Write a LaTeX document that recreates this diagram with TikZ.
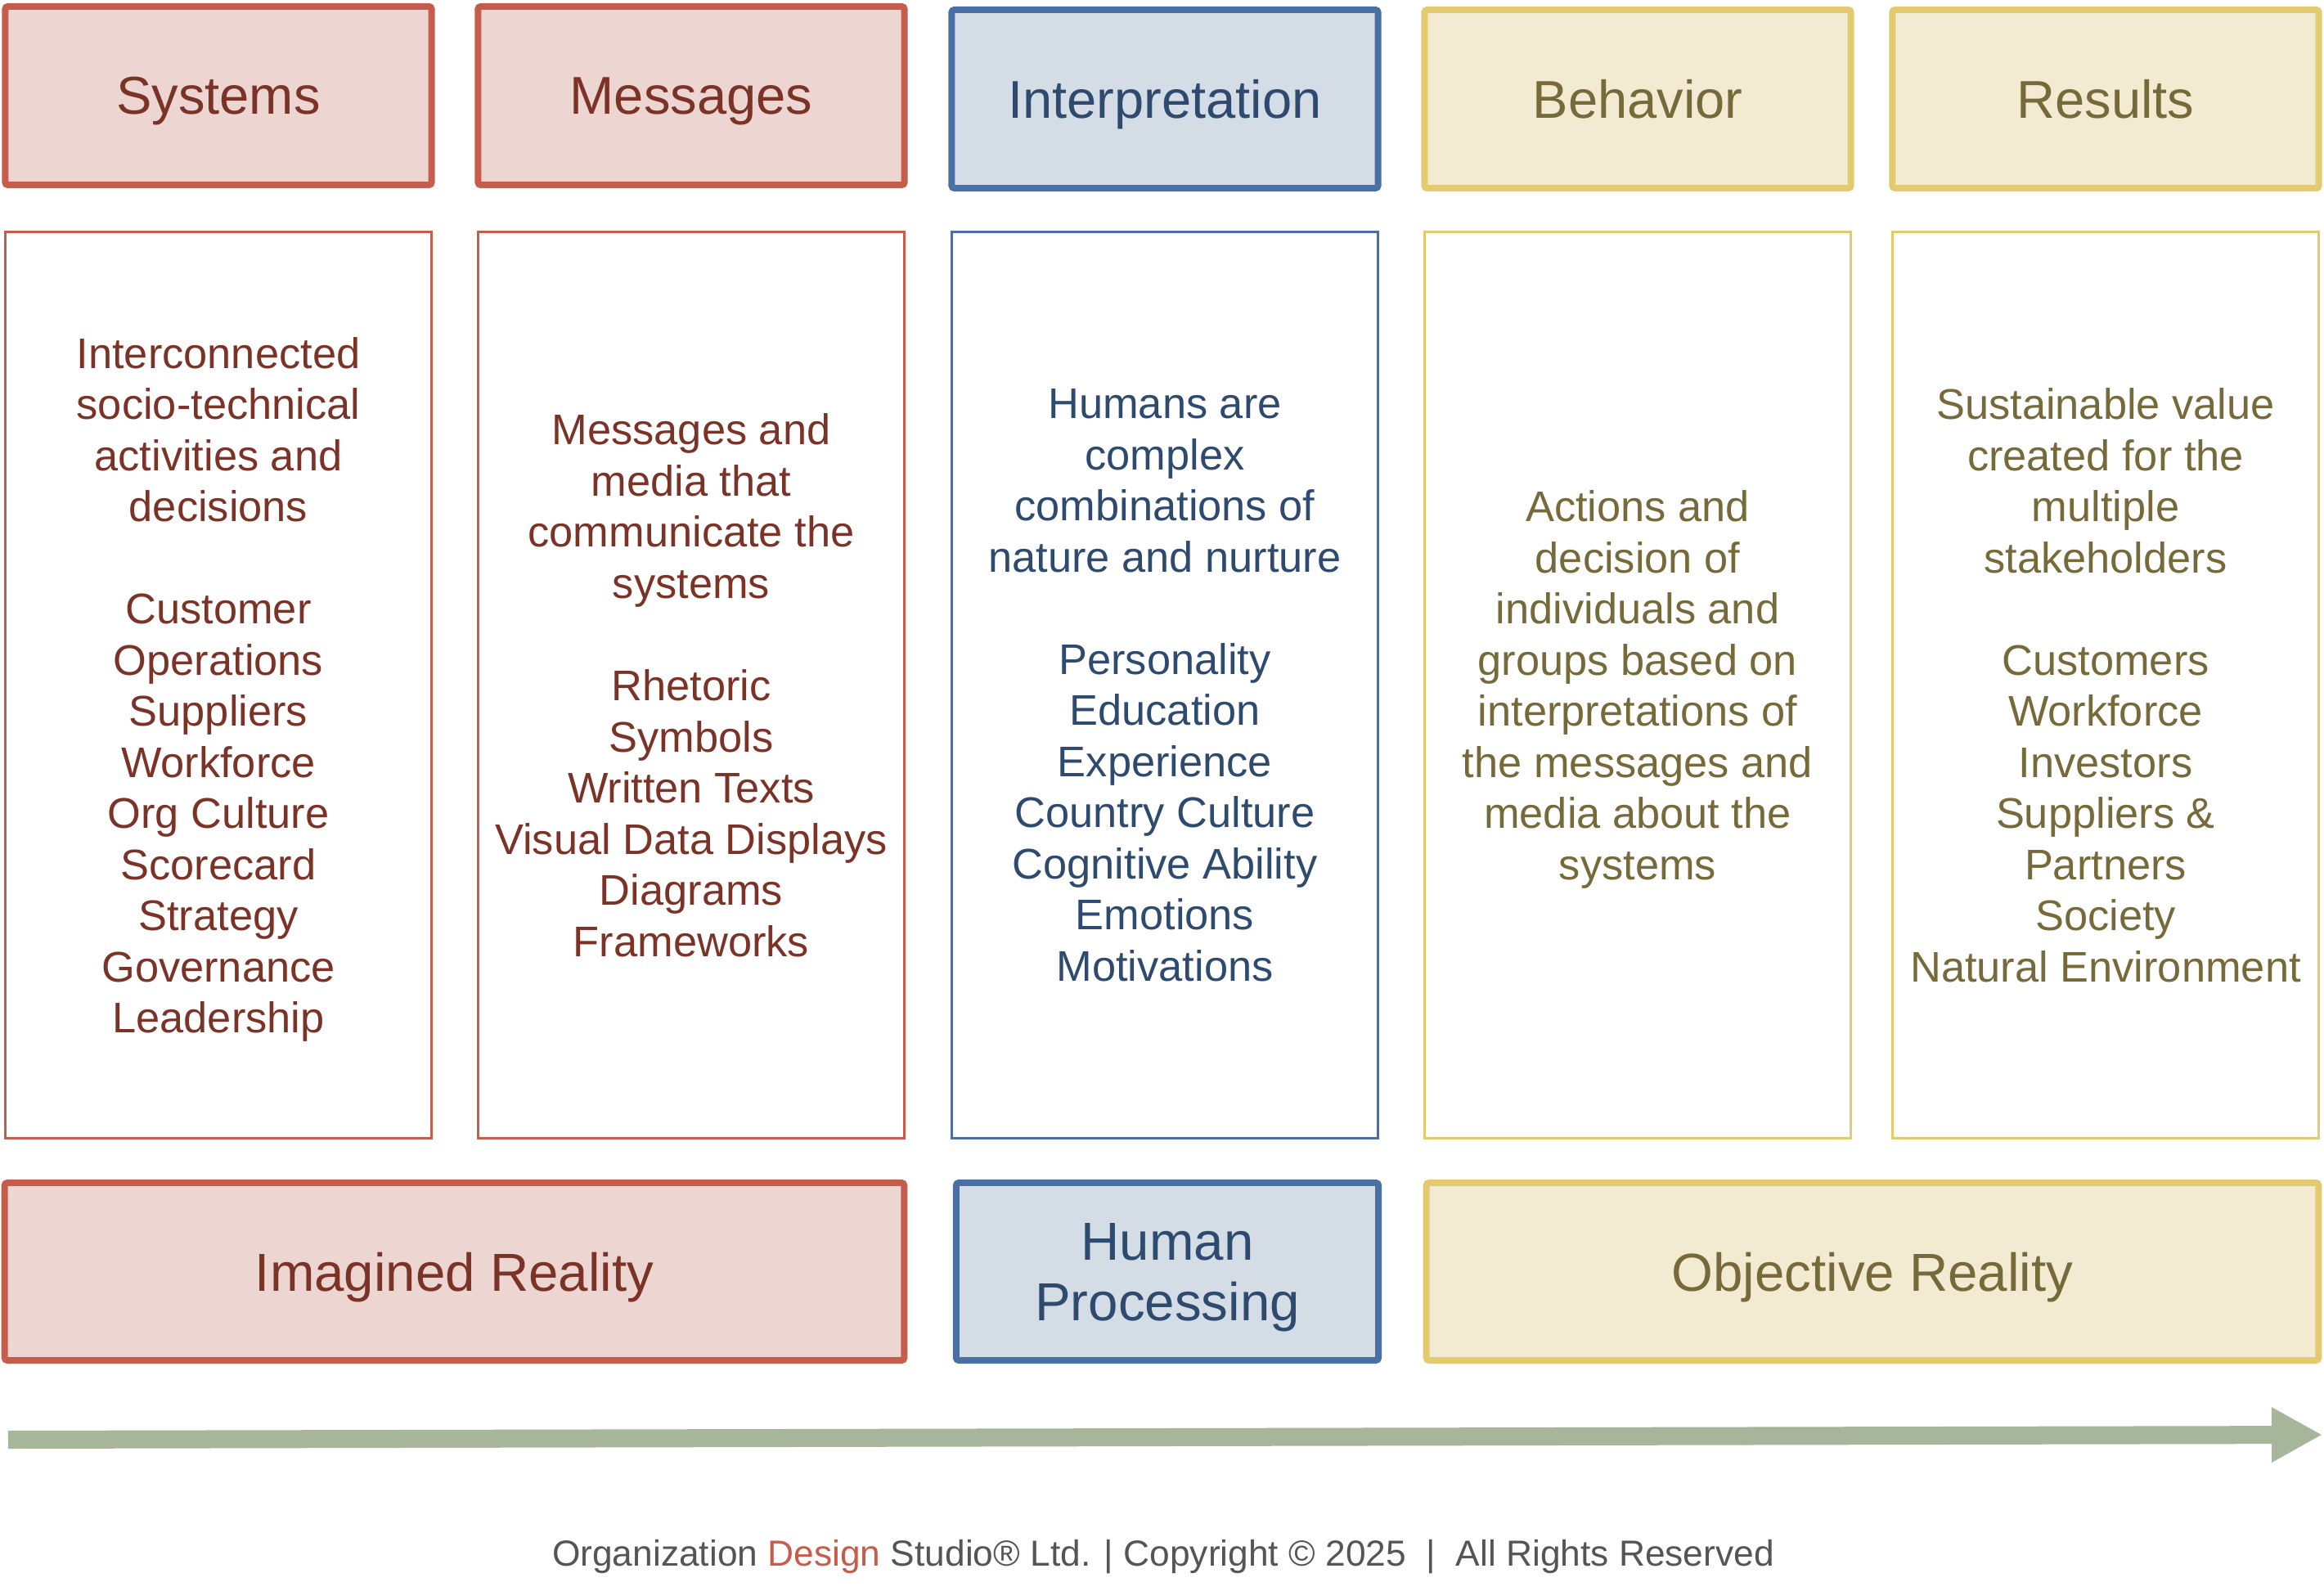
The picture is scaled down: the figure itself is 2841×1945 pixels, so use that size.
\documentclass[tikz,border=0pt]{standalone}
\usepackage{fontspec}
\setmainfont{Liberation Sans}
\usetikzlibrary{arrows.meta}
\definecolor{linered}{RGB}{197,92,76}
\definecolor{fillred}{RGB}{237,214,210}
\definecolor{textred}{RGB}{123,51,40}
\definecolor{lineblue}{RGB}{74,111,165}
\definecolor{fillblue}{RGB}{212,220,230}
\definecolor{textblue}{RGB}{46,74,110}
\definecolor{linegold}{RGB}{227,202,110}
\definecolor{fillgold}{RGB}{242,235,209}
\definecolor{textgold}{RGB}{118,105,58}
\definecolor{flowgreen}{RGB}{167,181,154}
\definecolor{footgray}{RGB}{85,85,85}
\tikzset{
  hdr/.style={draw, line width=2.3pt, rounded corners=1pt, minimum width=5.21cm,
    minimum height=2.18cm, inner sep=0pt, text depth=0pt, font=\fontsize{18.5}{21}\selectfont},
  body/.style={draw, line width=1pt, minimum width=5.21cm, minimum height=11.07cm,
    inner sep=0pt, text depth=0pt, align=center, font=\fontsize{14.9}{17.78}\selectfont},
  base/.style={draw, line width=2.3pt, rounded corners=1pt, minimum height=2.17cm,
    inner sep=0pt, text depth=0pt, align=center, font=\fontsize{18.6}{21.05}\selectfont},
  flow/.style={draw=flowgreen, line width=0.22cm, -{Triangle[length=0.62cm,width=0.63cm]}},
  foot/.style={inner sep=0pt, text=footgray, font=\fontsize{12.6}{14}\selectfont}
}

\begin{document}
\begin{tikzpicture}[x=0.01cm,y=-0.01cm]
	\useasboundingbox (0,0) rectangle (2841,1945);
	% headers
	\foreach \n/\x/\y/\c/\t in {sys/267/117/red/Systems, msg/845/117/red/Messages,
		intp/1424/121/blue/Interpretation, beh/2002/121/gold/Behavior, res/2574/121/gold/Results}
	\node[hdr, draw=line\c, fill=fill\c, text=text\c] (\n) at (\x,\y) {\t};
	% columns
	\node[body, draw=linered, text=textred] (sysC) at (267,837.5)
		{Interconnected\\socio-technical\\activities and\\decisions\\[17.78pt]
		Customer\\Operations\\Suppliers\\Workforce\\Org Culture\\Scorecard\\Strategy\\Governance\\Leadership};
	\node[body, draw=linered, text=textred] (msgC) at (845,837.5)
		{Messages and\\media that\\communicate the\\systems\\[17.78pt]
		Rhetoric\\Symbols\\Written Texts\\Visual Data Displays\\Diagrams\\Frameworks};
	\node[body, draw=lineblue, text=textblue] (intpC) at (1424,837.5)
		{Humans are\\complex\\combinations of\\nature and nurture\\[17.78pt]
		Personality\\Education\\Experience\\Country Culture\\Cognitive Ability\\Emotions\\Motivations};
	\node[body, draw=linegold, text=textgold] (behC) at (2002,837.5)
		{Actions and\\decision of\\individuals and\\groups based on\\interpretations of\\the messages and\\media about the\\systems};
	\node[body, draw=linegold, text=textgold] (resC) at (2574,837.5)
		{Sustainable value\\created for the\\multiple\\stakeholders\\[17.78pt]
		Customers\\Workforce\\Investors\\Suppliers \&\\Partners\\Society\\Natural Environment};
	% realities
	\node[base, draw=linered, fill=fillred, text=textred, minimum width=10.99cm] (imag) at (555.5,1554.5) {Imagined Reality};
	\node[base, draw=lineblue, fill=fillblue, text=textblue, minimum width=5.16cm] (human) at (1427,1554.5) {Human\\Processing};
	\node[base, draw=linegold, fill=fillgold, text=textgold, minimum width=10.90cm] (objr) at (2289,1554.5) {Objective Reality};
	% arrow
	\coordinate (flowL) at (10,1760);
	\coordinate (flowR) at (2839,1754);
	\draw[flow] (flowL) -- (flowR);
	\node[foot, anchor=base] (copy) at (1422,1914)
		{Organization {\color{linered}Design} Studio® Ltd. | Copyright © 2025\ \ |\ \ All Rights Reserved};
\end{tikzpicture}
\end{document}
